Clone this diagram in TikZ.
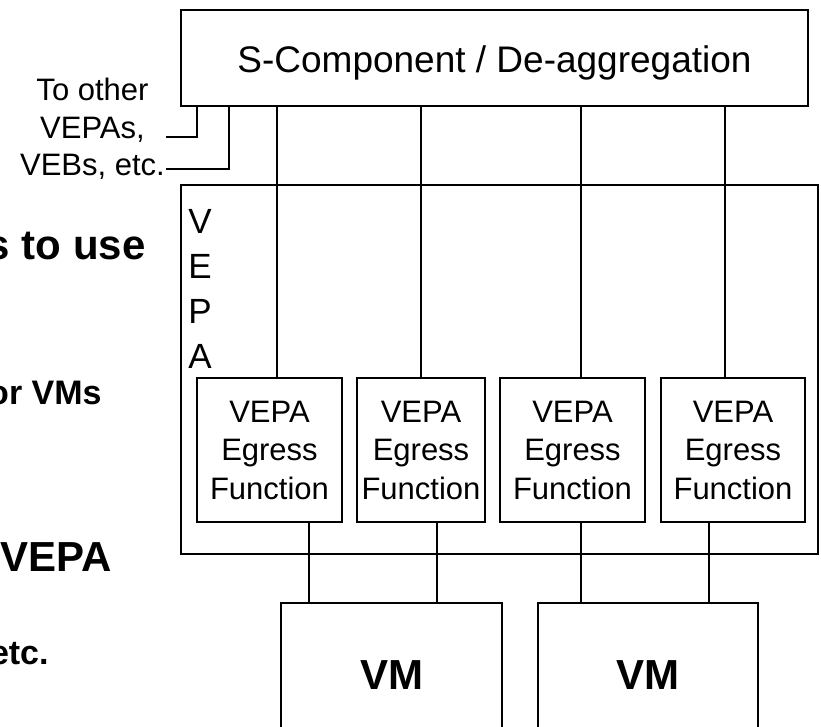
\documentclass[tikz,border=0pt]{standalone}
\usepackage{fontspec}
\setmainfont{Liberation Sans}
\begin{document}
\begin{tikzpicture}[x=1pt,y=-1pt,line width=2.8pt,
  box/.style={draw,rectangle,inner sep=0pt,outer sep=0pt,anchor=north west},
  egress/.style={box,minimum height=144pt,align=center,font=\fontsize{31}{38.5}\selectfont},
  vmbox/.style={box,minimum height=144pt,font=\fontsize{42}{50}\selectfont\bfseries},
  slide/.style={anchor=base east,inner sep=0pt,font=\fontsize{42}{50}\selectfont\bfseries},
  slidesmall/.style={slide,font=\fontsize{34}{40}\selectfont\bfseries}]
\useasboundingbox (0,0) rectangle (821,726);
\clip (0,0) rectangle (821,726);
% top box
\node[box,minimum width=627pt,minimum height=96pt,text depth=0pt,text height=29pt,
      font=\fontsize{37}{44}\selectfont] (scomp) at (181,10) {S-Component / De-aggregation};
% VEPA container
\node[box,minimum width=637pt,minimum height=369pt] (vepa) at (181,185) {};
\node[anchor=north west,inner sep=0pt,align=left,
      font=\fontsize{35}{45}\selectfont] (vlabel) at (187,208) {V\\E\\P\\A};
% egress boxes
\node[egress,minimum width=145pt] (e1) at (197,378) {VEPA\\Egress\\Function};
\node[egress,minimum width=128pt] (e2) at (357,378) {VEPA\\Egress\\Function};
\node[egress,minimum width=145pt] (e3) at (500,378) {VEPA\\Egress\\Function};
\node[egress,minimum width=144pt] (e4) at (661,378) {VEPA\\Egress\\Function};
% VMs
\node[vmbox,minimum width=221pt] (vm1) at (281,603) {VM};
\node[vmbox,minimum width=220pt] (vm2) at (538,603) {VM};
% connectors S-component to egress
\draw ([xshift=7.5pt]e1.north) -- ([xshift=7.5pt]e1.north |- scomp.south);
\draw (e2.north) -- (e2.north |- scomp.south);
\draw ([xshift=8.5pt]e3.north) -- ([xshift=8.5pt]e3.north |- scomp.south);
\draw ([xshift=-8pt]e4.north) -- ([xshift=-8pt]e4.north |- scomp.south);
% egress to VMs
\draw ([xshift=39.5pt]e1.south) -- ([xshift=39.5pt]e1.south |- vm1.north);
\draw ([xshift=16pt]e2.south) -- ([xshift=16pt]e2.south |- vm1.north);
\draw ([xshift=8.5pt]e3.south) -- ([xshift=8.5pt]e3.south |- vm2.north);
\draw ([xshift=-24pt]e4.south) -- ([xshift=-24pt]e4.south |- vm2.north);
% to other VEPAs
\node[anchor=north,inner sep=0pt,align=center,
      font=\fontsize{31}{37.5}\selectfont] (other) at (92.5,77) {To other\\VEPAs,\\VEBs, etc.};
\coordinate (t1) at (166,137);
\coordinate (t2) at (166,169);
\draw ([xshift=16pt]scomp.south west) |- (t1);
\draw ([xshift=48pt]scomp.south west) |- (t2);
% cut-off slide text
\node[slide] (s1) at (147,259) {s to use};
\node[slidesmall] (s2) at (103,404) {or VMs};
\node[slide] (s3) at (113,571) {VEPA};
\node[slidesmall] (s4) at (50,664) {etc.};
\end{tikzpicture}
\end{document}
